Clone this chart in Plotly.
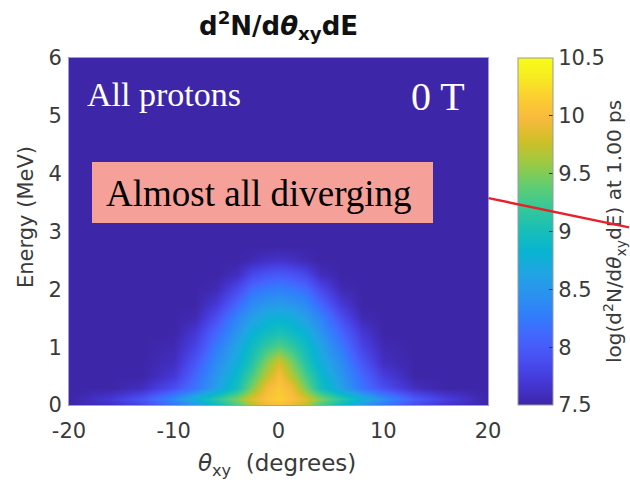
import plotly.graph_objects as go

# Angle (deg) and energy (MeV) sample nodes of the proton spectrum
theta_deg = [-20, -16, -13, -10, -8, -6, -4, -2.5, -1.2, 0, 1.2, 2.5, 4, 6, 8, 10, 13, 16, 20]
energy_mev = [0.0, 0.1, 0.3, 0.5, 0.75, 1.0, 1.25, 1.5, 1.75, 2.0, 2.25, 2.5, 2.75, 6.0]

# log10(d2N/dtheta dE), one row per energy node
log_counts = [
    [7.5, 7.6, 7.8, 8.2, 8.5, 8.9, 9.3, 9.7, 9.9, 10.0, 9.9, 9.7, 9.3, 8.9, 8.5, 8.2, 7.85, 7.65, 7.5],
    [7.5, 7.7, 7.95, 8.4, 8.8, 9.15, 9.5, 9.85, 10.05, 10.15, 10.05, 9.85, 9.5, 9.15, 8.8, 8.45, 8.0, 7.75, 7.5],
    [7.5, 7.5, 7.6, 7.9, 8.2, 8.6, 9.0, 9.5, 9.95, 10.1, 9.95, 9.5, 9.0, 8.6, 8.2, 7.9, 7.6, 7.5, 7.5],
    [7.5, 7.5, 7.5, 7.7, 8.1, 8.5, 8.9, 9.3, 9.7, 10.0, 9.7, 9.3, 8.9, 8.5, 8.1, 7.75, 7.5, 7.5, 7.5],
    [7.5, 7.5, 7.5, 7.6, 7.95, 8.4, 8.75, 9.1, 9.5, 9.8, 9.5, 9.1, 8.75, 8.4, 7.95, 7.6, 7.5, 7.5, 7.5],
    [7.5, 7.5, 7.5, 7.55, 7.8, 8.25, 8.65, 8.95, 9.2, 9.35, 9.2, 8.95, 8.65, 8.25, 7.8, 7.55, 7.5, 7.5, 7.5],
    [7.5, 7.5, 7.5, 7.5, 7.7, 8.1, 8.5, 8.8, 8.95, 9.05, 8.95, 8.8, 8.5, 8.1, 7.7, 7.5, 7.5, 7.5, 7.5],
    [7.5, 7.5, 7.5, 7.5, 7.55, 7.9, 8.35, 8.6, 8.75, 8.8, 8.75, 8.6, 8.35, 7.9, 7.55, 7.5, 7.5, 7.5, 7.5],
    [7.5, 7.5, 7.5, 7.5, 7.5, 7.7, 8.1, 8.4, 8.5, 8.55, 8.5, 8.4, 8.1, 7.7, 7.5, 7.5, 7.5, 7.5, 7.5],
    [7.5, 7.5, 7.5, 7.5, 7.5, 7.55, 7.85, 8.15, 8.25, 8.3, 8.25, 8.15, 7.85, 7.55, 7.5, 7.5, 7.5, 7.5, 7.5],
    [7.5, 7.5, 7.5, 7.5, 7.5, 7.5, 7.6, 7.85, 7.95, 8.0, 7.95, 7.85, 7.6, 7.5, 7.5, 7.5, 7.5, 7.5, 7.5],
    [7.5, 7.5, 7.5, 7.5, 7.5, 7.5, 7.5, 7.55, 7.62, 7.65, 7.62, 7.55, 7.5, 7.5, 7.5, 7.5, 7.5, 7.5, 7.5],
    [7.5] * 19,
    [7.5] * 19,
]

cbar_ticks = [7.5, 8, 8.5, 9, 9.5, 10, 10.5]
cbar_labels = ["7.5", "8", "8.5", "9", "9.5", "10", "10.5"]
x_ticks = [-20, -10, 0, 10, 20]
x_labels = ["-20", "-10", "0", "10", "20"]
y_ticks = [0, 1, 2, 3, 4, 5, 6]

# MATLAB parula anchors
parula_rgb = [
    (0, (0.2422, 0.1504, 0.6603)), (4, (0.2706, 0.2147, 0.8364)),
    (8, (0.2813, 0.3006, 0.9414)), (12, (0.2699, 0.3892, 0.9906)),
    (16, (0.1963, 0.4847, 0.9892)), (20, (0.1687, 0.5703, 0.9359)),
    (24, (0.1248, 0.6459, 0.8883)), (28, (0.0297, 0.7082, 0.8163)),
    (32, (0.0964, 0.7500, 0.7120)), (36, (0.2161, 0.7843, 0.5923)),
    (40, (0.3909, 0.8029, 0.4354)), (44, (0.6174, 0.7876, 0.2612)),
    (48, (0.8203, 0.7498, 0.1535)), (52, (0.9728, 0.7298, 0.2394)),
    (56, (0.9892, 0.8136, 0.1885)), (60, (0.9628, 0.9373, 0.1265)),
    (63, (0.9769, 0.9839, 0.0805)),
]
parula = [[i / 63, "rgb(%d,%d,%d)" % tuple(round(c * 255) for c in rgb)] for i, rgb in parula_rgb]
bg = parula[0][1]

# plot area in pixels
L, R, T, B = 69, 488, 58, 405
W, H = R - L, B - T


def px(x):
    return (x - L) / W


def py(y):
    return (B - y) / H


label_font = dict(family="DejaVu Sans", size=21, color="#3a3a3a")

fig = go.Figure(go.Heatmap(
    x=theta_deg, y=energy_mev, z=log_counts,
    colorscale=parula, zmin=7.5, zmax=10.5, zsmooth="best",
    colorbar=dict(
        x=px(518), xanchor="left", y=0.5, yanchor="middle",
        len=1, lenmode="fraction", thickness=35, thicknessmode="pixels",
        xpad=0, ypad=0, outlinewidth=1, outlinecolor="#9a9a9a",
        tickvals=cbar_ticks, ticktext=cbar_labels,
        ticks="inside", ticklen=4, tickcolor="#333333",
        tickfont=label_font,
    ),
))

axis_common = dict(
    showgrid=False, zeroline=False, ticks="",
    showline=True, mirror=True, linecolor="#a39bd6", linewidth=1,
    tickfont=label_font,
)
fig.update_xaxes(range=[-20, 20], tickvals=x_ticks, ticktext=x_labels,
                 ticklabelstandoff=7, **axis_common)
fig.update_yaxes(range=[0, 6], tickvals=y_ticks, ticklabelstandoff=2, **axis_common)

serif = "Liberation Serif"
sans = "DejaVu Sans"
ann = [
    dict(x=0.5, y=py(25), text="<b>d<sup>2</sup>N/d<i>θ</i><sub>xy</sub>dE</b>",
         font=dict(family=sans, size=26, color="#111111")),
    dict(x=px(277), y=py(465), text="<i>θ</i><sub>xy</sub>  (degrees)",
         font=dict(family=sans, size=23, color="#3a3a3a")),
    dict(x=px(26), y=py(217), text="Energy (MeV)", textangle=-90,
         font=dict(family=sans, size=21, color="#3a3a3a")),
    dict(x=px(614), y=py(232), text="log(d<sup>2</sup>N/d<i>θ</i><sub>xy</sub>dE) at 1.00 ps",
         textangle=-90, font=dict(family=sans, size=20, color="#3a3a3a")),
    dict(x=px(85), y=py(94), xanchor="left", text="All protons",
         font=dict(family=serif, size=34, color="white")),
    dict(x=px(467), y=py(96), xanchor="right", text="0 T",
         font=dict(family=serif, size=40, color="white")),
    dict(x=px(259), y=py(193), text="Almost all diverging",
         font=dict(family=serif, size=37, color="black")),
    # pointer line
    dict(x=px(632), y=py(227.4), ax=-145, ay=-29.6, axref="pixel", ayref="pixel",
         text="", showarrow=True, arrowhead=0, arrowwidth=2.5, arrowcolor="#e8202a",
         standoff=0, startstandoff=0),
]
for a in ann:
    a.setdefault("xref", "paper")
    a.setdefault("yref", "paper")
    a.setdefault("showarrow", False)
    a.setdefault("xanchor", "center")
    a.setdefault("yanchor", "middle")

fig.update_layout(
    width=630, height=486,
    margin=dict(l=L, r=630 - R, t=T, b=486 - B, autoexpand=False),
    paper_bgcolor="white", plot_bgcolor=bg,
    annotations=ann,
    shapes=[dict(type="rect", xref="paper", yref="paper",
                 x0=px(92), x1=px(433), y0=py(223), y1=py(162),
                 fillcolor="#f5a099", line=dict(width=0), layer="above")],
)

fig.write_html("out.html")
